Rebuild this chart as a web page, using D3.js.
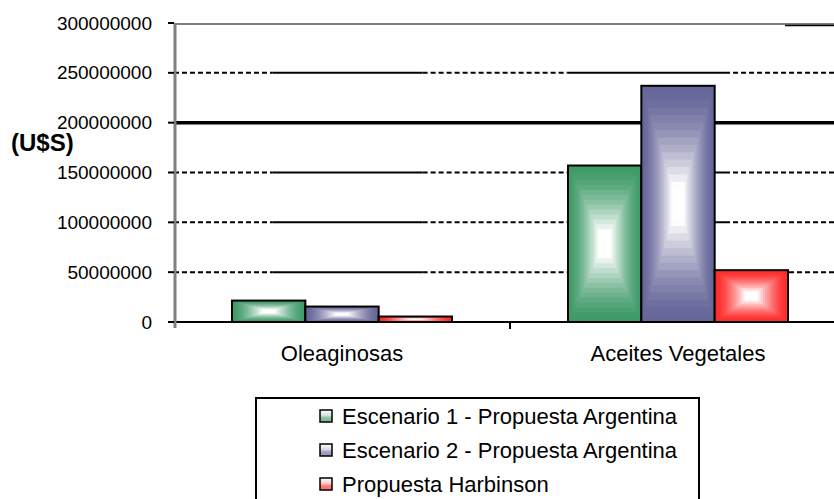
<!DOCTYPE html>
<html>
<head>
<meta charset="utf-8">
<script src="https://cdn.jsdelivr.net/npm/d3@7"></script>
<style>
  body { margin: 0; background: #fff; }
  svg { display: block; font-family: Arial, "Liberation Sans", sans-serif; }
</style>
</head>
<body>
<svg width="834" height="499"></svg>
<script>
/* ---------- datos ---------- */
const categorias = ["Oleaginosas", "Aceites Vegetales"];
const series = ["Escenario 1 - Propuesta Argentina", "Escenario 2 - Propuesta Argentina", "Propuesta Harbinson"];
const escenario1 = [21500000, 157000000];
const escenario2 = [15500000, 237000000];
const harbinson = [5500000, 52000000];
const yTicks = [0, 50000000, 100000000, 150000000, 200000000, 250000000, 300000000];
const colores = ["#3f9a68", "#666699", "#ff2a2a"];

const valores = [escenario1, escenario2, harbinson];

const svg = d3.select("svg");
const mLeft = 174, mRight = 846, mTop = 23, mBottom = 322;

const y = d3.scaleLinear().domain([0, 300000000]).range([mBottom, mTop]);
const x0 = d3.scaleBand().domain(categorias).range([mLeft, mRight]).paddingInner(0).paddingOuter(0);
const x1 = d3.scaleBand().domain(series).range([58, x0.bandwidth() - 58]);

/* ---------- lineas de division ---------- */
// la grilla original alterna tramos punteados y llenos
const tramos = [0, 0.147, 0.37, 0.586, 0.82, 1];
const grid = svg.append("g");
yTicks.filter(t => t > 0 && t < 300000000).forEach(t => {
  if (t === 200000000) {
    grid.append("line").attr("x1", mLeft).attr("x2", mRight)
      .attr("y1", y(t)).attr("y2", y(t))
      .attr("stroke", "#000").attr("stroke-width", 3.5);
    return;
  }
  for (let i = 0; i < tramos.length - 1; i++) {
    grid.append("line")
      .attr("x1", mLeft + tramos[i] * (mRight - mLeft))
      .attr("x2", mLeft + tramos[i + 1] * (mRight - mLeft))
      .attr("y1", y(t)).attr("y2", y(t))
      .attr("stroke", "#000").attr("stroke-width", 2)
      .attr("stroke-dasharray", i % 2 === 0 ? "5,3" : null);
  }
});
// linea superior
grid.append("line").attr("x1", mLeft).attr("x2", mRight)
  .attr("y1", y(300000000) + 1).attr("y2", y(300000000) + 1)
  .attr("stroke", "#808080").attr("stroke-width", 2);
grid.append("line").attr("x1", 785).attr("x2", mRight)
  .attr("y1", y(300000000) + 2.5).attr("y2", y(300000000) + 2.5)
  .attr("stroke", "#000").attr("stroke-width", 1.5);

/* ---------- barras con degradado rectangular ---------- */
const pasos = 16;
function rampa(color, k) {
  // k = 0 borde, 1 centro
  const t = Math.min(1, Math.pow(k, 1.5) * 1.35);
  return d3.interpolateRgb(color, "#ffffff")(t);
}

const barras = svg.append("g");
categorias.forEach((c, ci) => {
  series.forEach((s, si) => {
    const v = valores[si][ci];
    const bx = x0(c) + x1(s);
    const bw = x1.bandwidth();
    const by = y(v);
    const bh = mBottom - by;
    const g = barras.append("g");
    for (let k = 0; k < pasos; k++) {
      const f = k / pasos;
      g.append("rect")
        .attr("x", bx + f * bw / 2)
        .attr("y", by + f * bh / 2)
        .attr("width", Math.max(0, bw * (1 - f)))
        .attr("height", Math.max(0, bh * (1 - f)))
        .attr("fill", rampa(colores[si], f));
    }
    g.append("rect")
      .attr("x", bx).attr("y", by)
      .attr("width", bw).attr("height", bh)
      .attr("fill", "none").attr("stroke", "#000").attr("stroke-width", 2);
  });
});

/* ---------- ejes ---------- */
const ax = svg.append("g");
ax.append("line").attr("x1", mLeft).attr("x2", mRight)
  .attr("y1", mBottom).attr("y2", mBottom)
  .attr("stroke", "#000").attr("stroke-width", 2);
ax.append("line").attr("x1", mLeft + 1).attr("x2", mLeft + 1)
  .attr("y1", mTop).attr("y2", mBottom + 6)
  .attr("stroke", "#808080").attr("stroke-width", 3);

yTicks.forEach(t => {
  ax.append("line").attr("x1", mLeft - 6).attr("x2", mLeft)
    .attr("y1", y(t)).attr("y2", y(t))
    .attr("stroke", "#000").attr("stroke-width", 2);
  ax.append("text")
    .attr("x", 152).attr("y", y(t))
    .attr("dy", "0.35em")
    .attr("text-anchor", "end")
    .attr("font-size", 19)
    .attr("fill", "#000")
    .text(t);
});

// separador de categorias
ax.append("line").attr("x1", x0(categorias[1])).attr("x2", x0(categorias[1]))
  .attr("y1", mBottom).attr("y2", mBottom + 7)
  .attr("stroke", "#000").attr("stroke-width", 2);

categorias.forEach(c => {
  ax.append("text")
    .attr("x", x0(c) + x0.bandwidth() / 2)
    .attr("y", 361)
    .attr("text-anchor", "middle")
    .attr("font-size", 22)
    .text(c);
});

svg.append("text")
  .attr("x", 11).attr("y", 151)
  .attr("font-size", 24).attr("font-weight", "bold")
  .text("(U$S)");

/* ---------- leyenda ---------- */
const leg = svg.append("g");
leg.append("rect").attr("x", 256).attr("y", 398)
  .attr("width", 443).attr("height", 120)
  .attr("fill", "#fff").attr("stroke", "#000").attr("stroke-width", 2);

const defs = svg.append("defs");
series.forEach((s, i) => {
  const gr = defs.append("linearGradient").attr("id", "lg" + i)
    .attr("x1", 0).attr("y1", 0).attr("x2", 0).attr("y2", 1);
  gr.append("stop").attr("offset", "0%").attr("stop-color", "#fff");
  gr.append("stop").attr("offset", "45%").attr("stop-color", d3.interpolateRgb(colores[i], "#fff")(0.75));
  gr.append("stop").attr("offset", "65%").attr("stop-color", d3.interpolateRgb(colores[i], "#fff")(0.4));
  gr.append("stop").attr("offset", "100%").attr("stop-color", d3.interpolateRgb(colores[i], "#fff")(0.3));

  const ry = 416 + i * 34;
  leg.append("rect").attr("x", 320).attr("y", ry - 6)
    .attr("width", 12).attr("height", 12)
    .attr("fill", `url(#lg${i})`).attr("stroke", "#000").attr("stroke-width", 1.5);
  leg.append("text").attr("x", 342).attr("y", ry)
    .attr("dy", "0.35em").attr("font-size", 22)
    .text(s);
});
</script>
</body>
</html>
